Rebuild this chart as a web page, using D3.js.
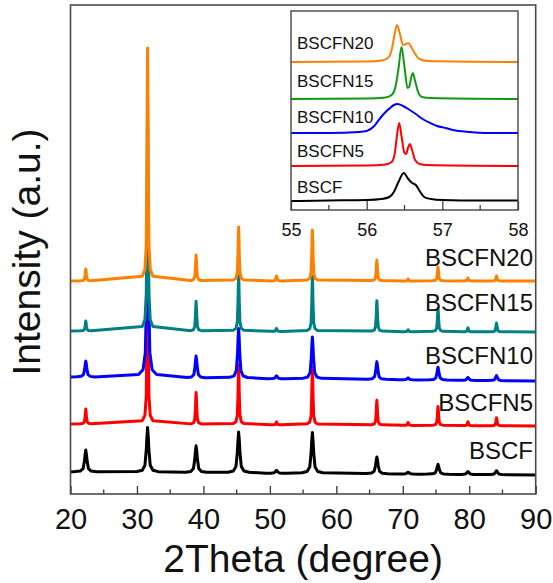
<!DOCTYPE html>
<html>
<head>
<meta charset="utf-8">
<script src="https://cdn.jsdelivr.net/npm/d3@7"></script>
<style>
  html, body { margin: 0; padding: 0; background: #fff; }
  svg { display: block; font-family: "Liberation Sans", Arial, sans-serif; }
</style>
</head>
<body>
<svg id="chart" width="553" height="583"></svg>
<script>
// ---- data ----
const seriesNames = ["BSCF", "BSCFN5", "BSCFN10", "BSCFN15", "BSCFN20"];
// reflection positions (2θ, degree)
const reflections = [22.3, 31.6, 38.9, 45.3, 51.0, 56.4, 66.1, 70.8, 75.3, 79.8, 84.1];
// peak intensities (a.u.) at each reflection
const bscfPeaks    = [22,  45, 27, 41, 3, 41, 17, 2, 10, 3, 4];
const bscfn5Peaks  = [15, 180, 32, 60, 3, 58, 25, 3, 19, 4, 8];
const bscfn10Peaks = [16, 158, 22, 50, 3, 42, 18, 2, 13, 3, 5];
const bscfn15Peaks = [10, 230, 30, 58, 3, 55, 31, 2, 23, 4, 9];
const bscfn20Peaks = [12, 233, 26, 54, 5, 51, 21, 2, 14, 3, 5];
// peak half-widths (degree)
const halfWidths = [0.2, 0.1, 0.17, 0.1, 0.1];
// background level at 20° and 90°
const bgStart = [3, 2, 4, 1, 0];
const bgEnd   = [0, 0, 0, 0, 0];

// zoomed (110) region, 55–58°
const insetBSCF = [[55,0],[55.5,0.5],[56,1],[56.2,2],[56.3,4],[56.36,9],[56.42,19],[56.49,28],[56.55,22],
  [56.6,18],[56.65,16],[56.7,10],[56.76,4],[56.85,2],[57,1],[57.5,0.5],[58,0.5]];
const insetBSCFN5 = [[55,0],[56,0.5],[56.25,1.5],[56.33,4],[56.37,12],[56.4,30],[56.43,43],[56.46,30],
  [56.5,13],[56.52,12],[56.55,19],[56.57,22],[56.6,16],[56.64,6],[56.7,2],[56.8,1],[58,0]];
const insetBSCFN10 = [[55,0],[55.5,0],[55.9,1],[56,2],[56.1,7],[56.18,15],[56.25,21],[56.31,25],[56.36,28],
  [56.41,29],[56.48,27],[56.57,23],[56.65,19],[56.74,14],[56.84,10],[56.93,7],[57.04,5],[57.14,3],
  [57.36,1],[57.6,0],[58,0]];
const insetBSCFN15 = [[55,0],[56,0.5],[56.25,1.5],[56.33,4],[56.38,12],[56.42,30],[56.46,52],[56.5,32],
  [56.54,11],[56.56,12],[56.59,22],[56.61,26],[56.64,18],[56.68,7],[56.73,2],[56.85,1],[58,0]];
const insetBSCFN20 = [[55,0],[56,0.5],[56.2,1.5],[56.28,4],[56.33,12],[56.37,28],[56.4,37],[56.44,28],
  [56.48,17],[56.52,18],[56.55,19],[56.59,15],[56.64,8],[56.7,3],[56.8,1],[58,0]];

const xTicks = [20, 30, 40, 50, 60, 70, 80, 90];
const insetTicks = [55, 56, 57, 58];

// ---- layout & style ----
const mainColors  = ["#000000", "#ff0000", "#0000ff", "#008080", "#ff8000"];
const insetColors = ["#000000", "#ff0000", "#0000ff", "#129912", "#ff8000"];
const stackOffset = [19, 68, 113, 162, 213];        // vertical shift of each pattern
const insetOffset = [9, 44, 77, 111, 148];
const mainLabelY  = [450, 402, 355, 302, 257];
const insetLabelY = [187, 151, 117, 81, 43];
// peak line shape in units of half-width
const PROFILE = [[-8,0.02],[-4,0.05],[-2,0.16],[-1,0.5],[-0.5,0.8],[0,1],[0.5,0.8],[1,0.5],[2,0.16],[4,0.05],[8,0.02]];

const svg = d3.select("#chart");
const M = { left: 70.5, right: 535.7, top: 5, bottom: 494 };

const x = d3.scaleLinear().domain([20, 90]).range([M.left, M.right]);
const y = d3.scaleLinear().domain([0, 489]).range([M.bottom, M.top]);

const peakSets = [bscfPeaks, bscfn5Peaks, bscfn10Peaks, bscfn15Peaks, bscfn20Peaks];

function patternPoints(i) {
  const bg = d3.scaleLinear().domain([20, 90]).range([bgStart[i], bgEnd[i]]);
  const pts = [[20, bg(20)]];
  reflections.forEach((pos, k) => {
    PROFILE.forEach(([u, f]) => {
      const t = pos + u * halfWidths[i];
      pts.push([t, bg(t) + peakSets[i][k] * f]);
    });
  });
  pts.push([90, bg(90)]);
  return pts;
}

svg.append("clipPath").attr("id", "mainClip")
  .append("rect").attr("x", M.left).attr("y", M.top)
  .attr("width", M.right - M.left).attr("height", M.bottom - M.top);

const gMain = svg.append("g").attr("clip-path", "url(#mainClip)");
seriesNames.forEach((name, i) => {
  const line = d3.line()
    .x(d => x(d[0]))
    .y(d => y(d[1] + stackOffset[i]));
  gMain.append("path")
    .datum(patternPoints(i))
    .attr("d", line)
    .attr("fill", "none")
    .attr("stroke", mainColors[i])
    .attr("stroke-width", 3)
    .attr("stroke-linejoin", "round");
});

// main labels
seriesNames.forEach((name, i) => {
  svg.append("text")
    .attr("x", 533).attr("y", mainLabelY[i])
    .attr("dy", "0.36em")
    .attr("text-anchor", "end")
    .attr("font-size", 24)
    .attr("fill", "#111")
    .text(name);
});

// bottom axis with inward ticks
const xAxis = d3.axisBottom(x).tickValues(xTicks).tickFormat(d3.format("d"))
  .tickSize(-8).tickSizeOuter(0).tickPadding(14);
const gx = svg.append("g").attr("transform", `translate(0,${M.bottom})`).call(xAxis);
gx.select(".domain").remove();
gx.selectAll(".tick line").attr("stroke", "#333").attr("stroke-width", 1.3);
gx.selectAll(".tick text").attr("font-size", 29).attr("fill", "#111")
  .attr("font-family", "Liberation Sans, Arial, sans-serif");
const minor = d3.range(25, 90, 10);
svg.append("g").selectAll("line").data(minor).join("line")
  .attr("x1", d => x(d)).attr("x2", d => x(d))
  .attr("y1", M.bottom).attr("y2", M.bottom - 4.5)
  .attr("stroke", "#333").attr("stroke-width", 1.3);

// frame
svg.append("rect")
  .attr("x", M.left).attr("y", M.top)
  .attr("width", M.right - M.left).attr("height", M.bottom - M.top)
  .attr("fill", "none").attr("stroke", "#4a4a4a").attr("stroke-width", 1.6);

// axis titles
svg.append("text")
  .attr("x", (M.left + M.right) / 2).attr("y", 572)
  .attr("text-anchor", "middle").attr("font-size", 39).attr("fill", "#111")
  .text("2Theta (degree)");
svg.append("text")
  .attr("transform", `translate(40,252) rotate(-90)`)
  .attr("text-anchor", "middle").attr("font-size", 39).attr("fill", "#111")
  .text("Intensity (a.u.)");

// ---- inset ----
const I = { left: 291, right: 518, top: 11, bottom: 210 };
const xi = d3.scaleLinear().domain([55, 58]).range([I.left, I.right]);
const yi = d3.scaleLinear().domain([0, 199]).range([I.bottom, I.top]);

svg.append("rect")
  .attr("x", I.left).attr("y", I.top)
  .attr("width", I.right - I.left).attr("height", I.bottom - I.top)
  .attr("fill", "#fff");

svg.append("clipPath").attr("id", "insetClip")
  .append("rect").attr("x", I.left).attr("y", I.top)
  .attr("width", I.right - I.left).attr("height", I.bottom - I.top);

const insetSets = [insetBSCF, insetBSCFN5, insetBSCFN10, insetBSCFN15, insetBSCFN20];
const gIn = svg.append("g").attr("clip-path", "url(#insetClip)");
insetSets.forEach((pts, i) => {
  const line = d3.line()
    .curve(d3.curveMonotoneX)
    .x(d => xi(d[0]))
    .y(d => yi(d[1] + insetOffset[i]));
  gIn.append("path")
    .datum(pts)
    .attr("d", line)
    .attr("fill", "none")
    .attr("stroke", insetColors[i])
    .attr("stroke-width", 2)
    .attr("stroke-linejoin", "round");
});

seriesNames.forEach((name, i) => {
  svg.append("text")
    .attr("x", 297).attr("y", insetLabelY[i])
    .attr("dy", "0.36em")
    .attr("font-size", 17)
    .attr("fill", "#111")
    .text(name);
});

const xiAxis = d3.axisBottom(xi).tickValues(insetTicks).tickFormat(d3.format("d"))
  .tickSize(-9).tickSizeOuter(0).tickPadding(13);
const gxi = svg.append("g").attr("transform", `translate(0,${I.bottom})`).call(xiAxis);
gxi.select(".domain").remove();
gxi.selectAll(".tick line").attr("stroke", "#333").attr("stroke-width", 1.2);
gxi.selectAll(".tick text").attr("font-size", 18).attr("fill", "#111")
  .attr("font-family", "Liberation Sans, Arial, sans-serif");
svg.append("g").selectAll("line").data([55.5, 56.5, 57.5]).join("line")
  .attr("x1", d => xi(d)).attr("x2", d => xi(d))
  .attr("y1", I.bottom).attr("y2", I.bottom - 5)
  .attr("stroke", "#333").attr("stroke-width", 1.2);

svg.append("rect")
  .attr("x", I.left).attr("y", I.top)
  .attr("width", I.right - I.left).attr("height", I.bottom - I.top)
  .attr("fill", "none").attr("stroke", "#444").attr("stroke-width", 1.4);
</script>
</body>
</html>
